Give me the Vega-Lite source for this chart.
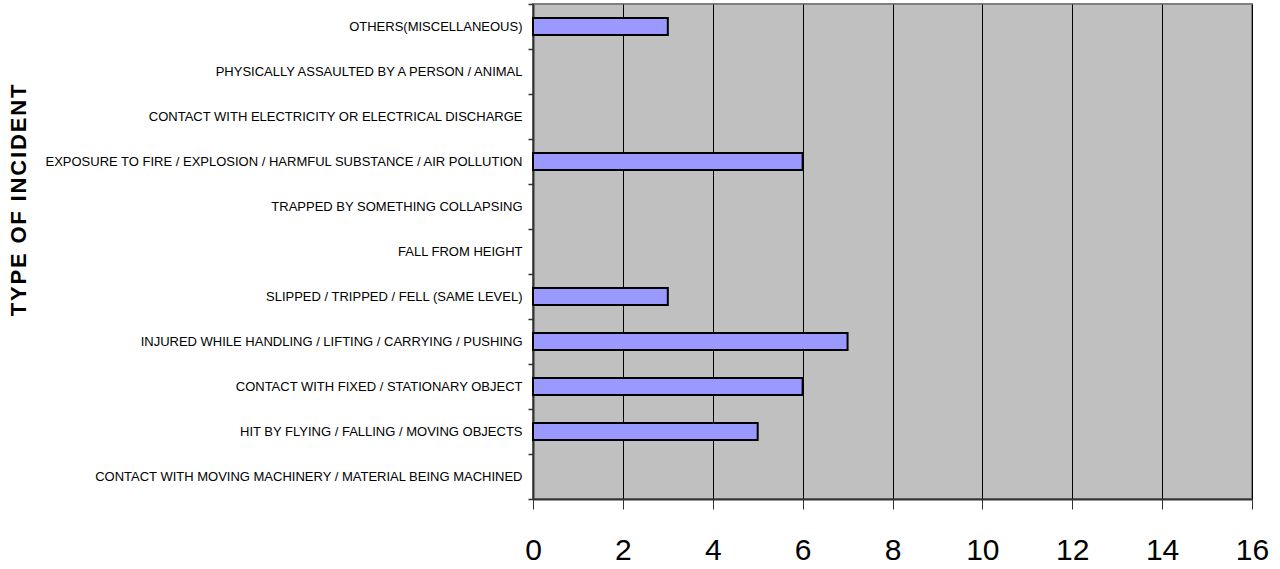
{
  "$schema": "https://vega.github.io/schema/vega-lite/v6.json",
  "autosize": "none",
  "padding": {"left": 533, "top": 4, "right": 28, "bottom": 70},
  "width": 719,
  "height": 495,
  "background": "white",
  "config": {
    "font": "Liberation Sans",
    "view": {"fill": "#C0C0C0", "stroke": "#808080", "strokeWidth": 2}
  },
  "data": {
    "values": [
      {"type": "OTHERS(MISCELLANEOUS)", "count": 3},
      {"type": "PHYSICALLY ASSAULTED BY A PERSON / ANIMAL", "count": 0},
      {"type": "CONTACT WITH ELECTRICITY OR ELECTRICAL DISCHARGE", "count": 0},
      {"type": "EXPOSURE TO FIRE / EXPLOSION / HARMFUL SUBSTANCE / AIR POLLUTION", "count": 6},
      {"type": "TRAPPED BY SOMETHING COLLAPSING", "count": 0},
      {"type": "FALL FROM HEIGHT", "count": 0},
      {"type": "SLIPPED / TRIPPED / FELL (SAME LEVEL)", "count": 3},
      {"type": "INJURED WHILE HANDLING / LIFTING / CARRYING / PUSHING", "count": 7},
      {"type": "CONTACT WITH FIXED / STATIONARY OBJECT", "count": 6},
      {"type": "HIT BY FLYING / FALLING / MOVING OBJECTS", "count": 5},
      {"type": "CONTACT WITH MOVING MACHINERY / MATERIAL BEING MACHINED", "count": 0}
    ]
  },
  "mark": {"type": "bar", "size": 17, "fill": "#9999FF", "stroke": "black"},
  "encoding": {
    "y": {
      "field": "type",
      "type": "nominal",
      "sort": null,
      "scale": {"paddingInner": 0, "paddingOuter": 0},
      "axis": {
        "title": "T\u200aY\u200aP\u200aE\u200a \u200aO\u200aF\u200a \u200aI\u200aN\u200aC\u200aI\u200aD\u200aE\u200aN\u200aT",
        "titleFontSize": 22,
        "titleFontWeight": "bold",
        "titleColor": "black",
        "titleX": -515,
        "titleY": 196,
        "titleAngle": -90,
        "titleAlign": "center",
        "titleBaseline": "middle",
        "labelFontSize": 13,
        "labelColor": "black",
        "labelPadding": 6,
        "labelLimit": 600,
        "tickBand": "extent",
        "tickSize": 5,
        "tickColor": "#333333",
        "tickWidth": 1.5,
        "domainColor": "#333333",
        "domainWidth": 2,
        "grid": false
      }
    },
    "x": {
      "field": "count",
      "type": "quantitative",
      "scale": {"domain": [0, 16], "nice": false},
      "axis": {
        "title": null,
        "values": [0, 2, 4, 6, 8, 10, 12, 14, 16],
        "labelFontSize": 30,
        "labelColor": "black",
        "labelPadding": 26,
        "labelFlush": false,
        "labelOverlap": false,
        "tickSize": 10,
        "tickColor": "#333333",
        "domainColor": "#333333",
        "domainWidth": 2,
        "grid": true,
        "gridColor": "black",
        "gridWidth": 1,
        "gridOpacity": 1
      }
    },
    "strokeWidth": {"condition": {"test": "datum.count > 0", "value": 2}, "value": 0}
  }
}
